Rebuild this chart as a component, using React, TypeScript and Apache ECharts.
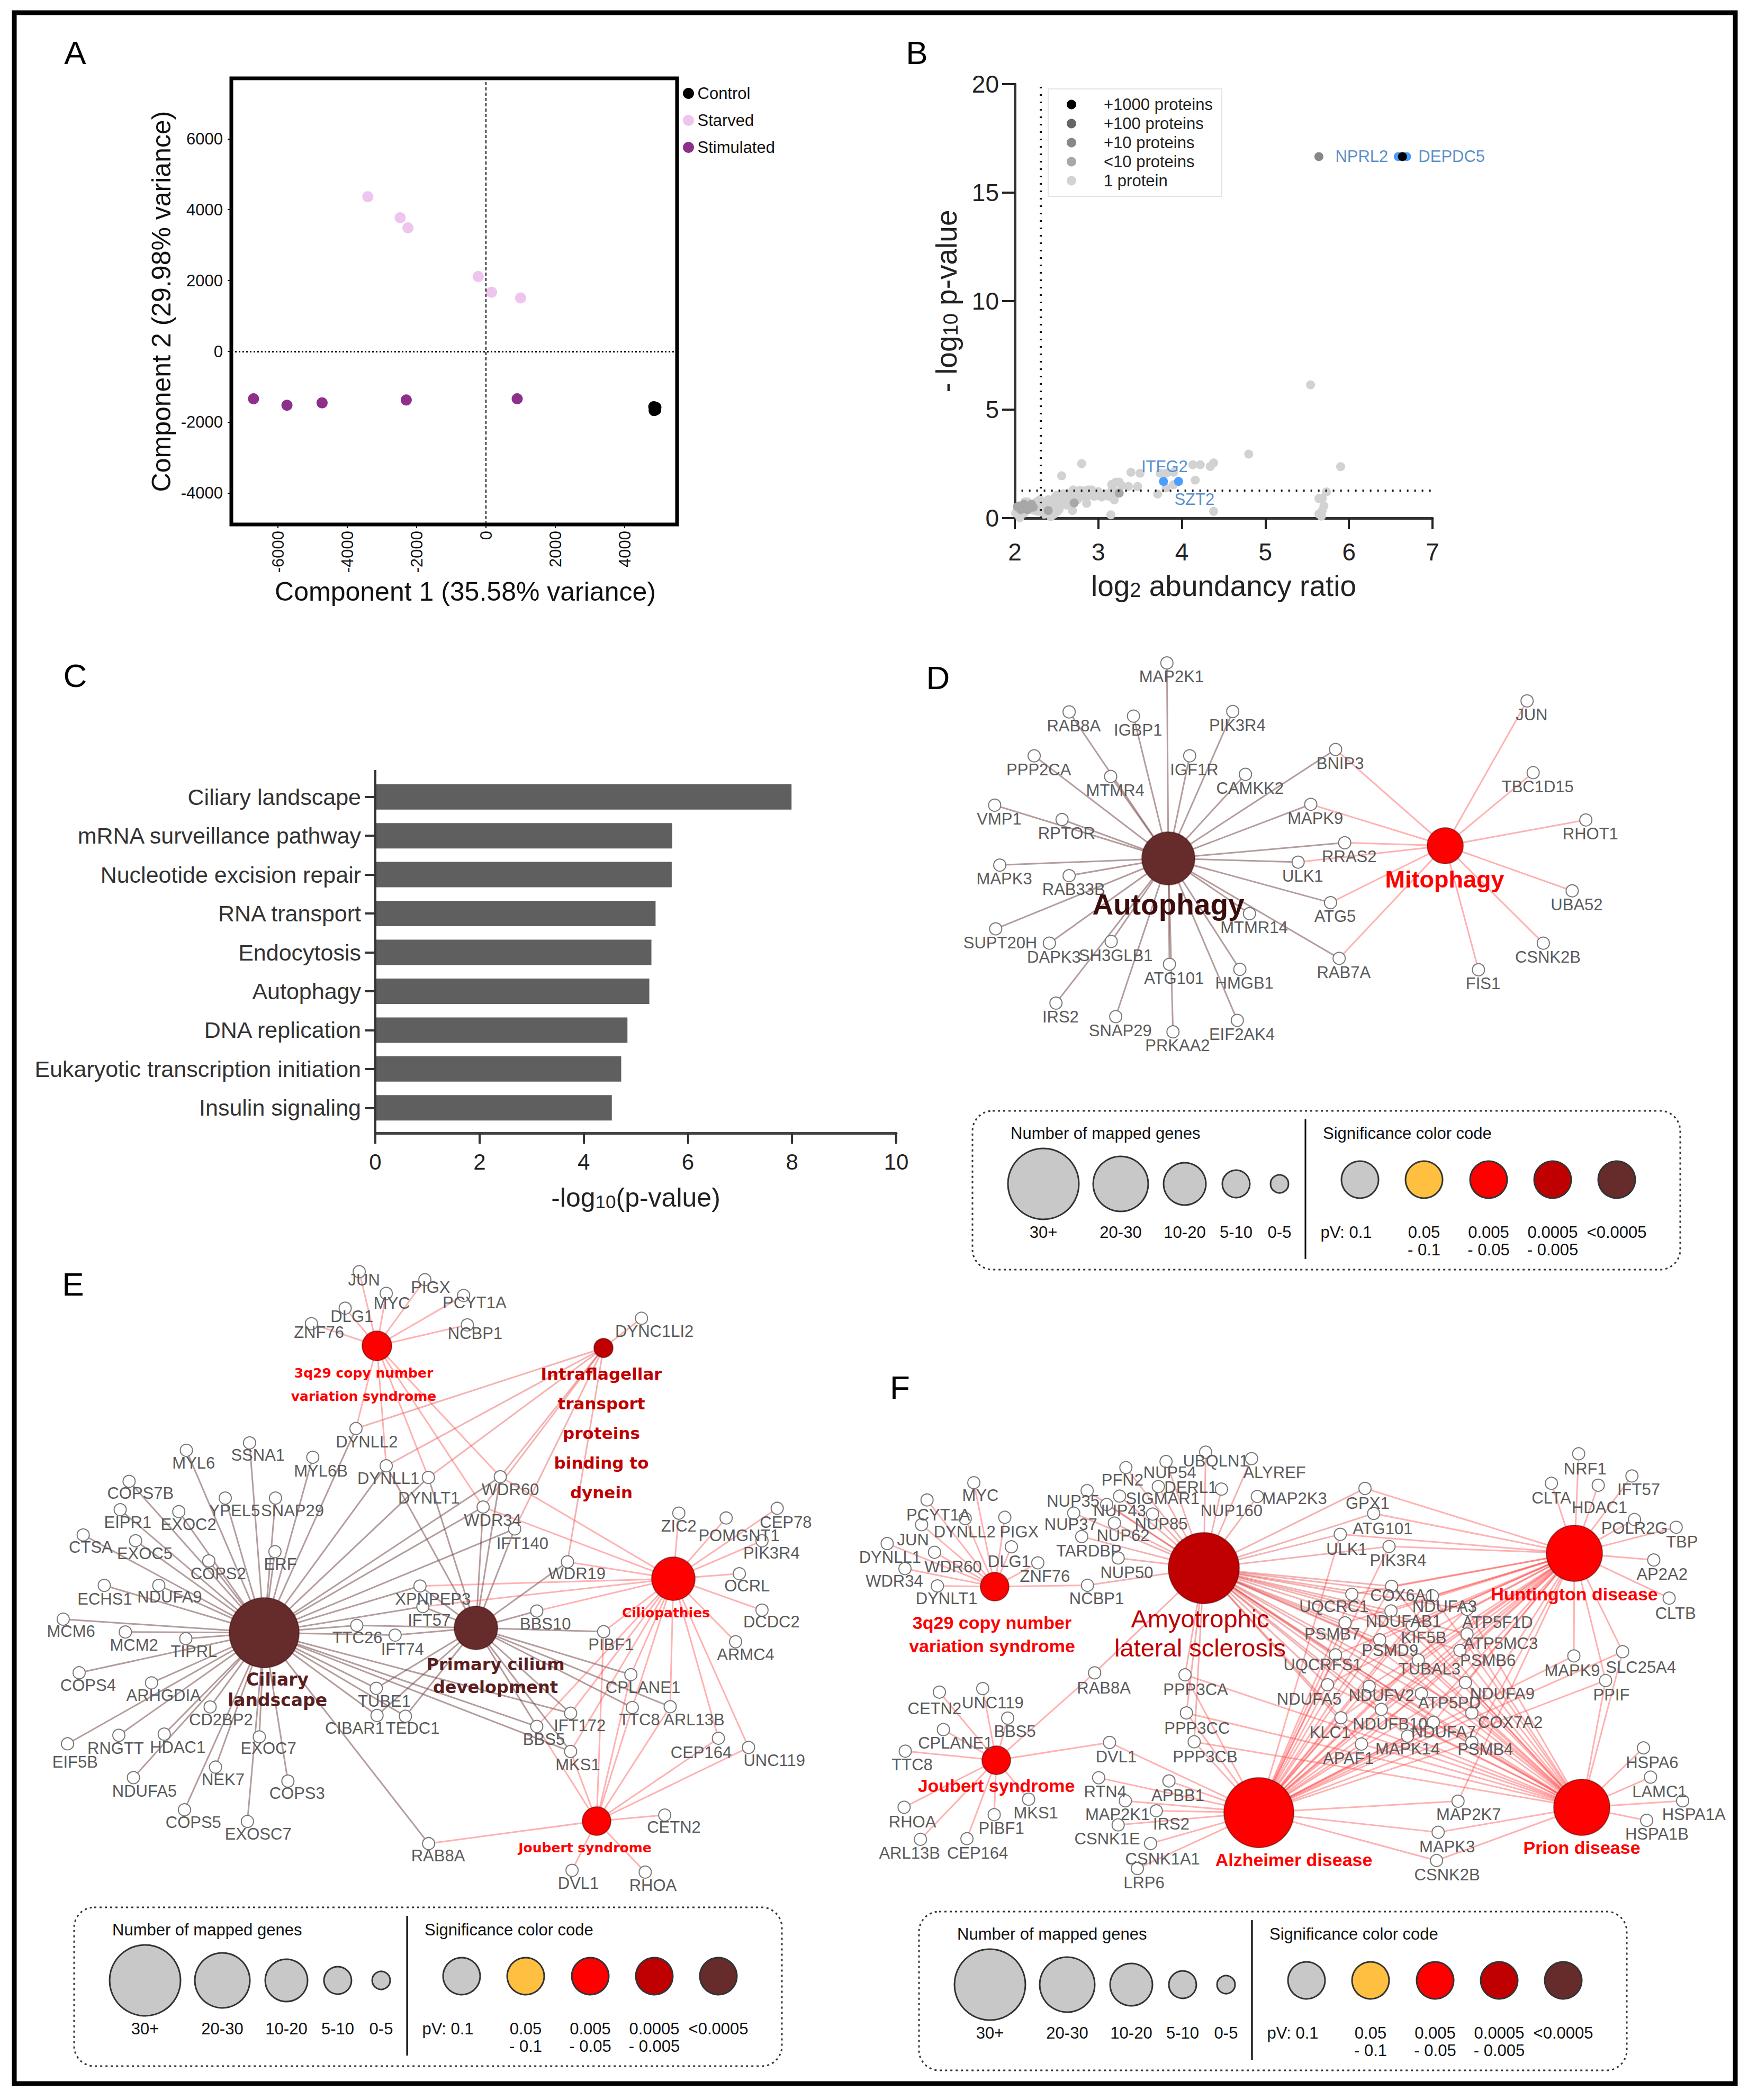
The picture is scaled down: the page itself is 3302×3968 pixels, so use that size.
import React, { useEffect, useRef } from "react";
import * as echarts from "echarts";

const FONT = "Liberation Sans";
const W = 3302;
const H = 3968;

// ---------- Panel A ----------
const pcaControl = [[4871, -1623], [4840, -1560], [4900, -1580], [4850, -1670], [4895, -1650], [4870, -1600]];
const pcaStarved = [[-3408, 4366], [-2476, 3771], [-2251, 3486], [-225, 2114], [161, 1669], [997, 1509]];
const pcaStimulated = [[-6704, -1337], [-5740, -1520], [-4727, -1451], [-2299, -1371], [900, -1337]];
const pcaXTicks = [-6000, -4000, -2000, 0, 2000, 4000];
const pcaYTicks = [-4000, -2000, 0, 2000, 4000, 6000];

// ---------- Panel B ----------
const volcanoOne = [
  [2.8, 2.51], [2.56, 1.95], [3.39, 2.11], [3.5, 2.07], [3.74, 2.07], [3.81, 2.07], [3.9, 2.11], [4.13, 2.46], [4.22, 2.46],
  [4.34, 2.38], [4.38, 2.54], [4.8, 2.95], [4.16, 1.75], [3.81, 1.39], [3.9, 1.54], [3.71, 1.11], [4.38, 0.31], [3.15, 0.15],
  [3.19, 0.84], [3.47, 1.46], [3.36, 1.46], [3.21, 1.66], [3.25, 1.66], [3.17, 1.38], [2.86, 0.68], [2.69, 0.35],
  [1.99, 0.48], [2.01, 0.23], [2.06, 0.02], [2.11, 0.23], [2.18, 0.39], [2.24, 0.64], [2.28, 0.31], [2.32, 0.56], [2.37, 0.72],
  [2.39, 0.31], [2.43, 0.07], [2.45, 0.56], [2.47, 0.8], [2.51, 0.31], [2.53, 0.64], [2.56, 0.97], [2.6, 0.8], [2.64, 1.13],
  [2.68, 0.89], [2.7, 1.3], [2.75, 1.05], [2.79, 1.13], [2.83, 1.25], [2.89, 1.05], [2.94, 1.13], [2.98, 1.17], [3.04, 0.97],
  [3.12, 1.01], [2.53, 0.39], [2.34, 0.39], [2.24, 0.35], [2.62, 0.6], [2.88, 1.3], [2.5, 1.05], [2.4, 0.85], [2.3, 0.85],
  [2.15, 0.75], [2.26, 0.75], [2.35, 0.18], [2.47, 0.18], [2.6, 1.05], [2.72, 1.15], [2.92, 1.3], [3.0, 1.05], [3.08, 1.08],
  [3.2, 1.2], [2.75, 0.85], [2.42, 0.55], [2.3, 0.5], [2.2, 0.55], [2.56, 0.72], [2.66, 0.95], [2.82, 1.0], [2.95, 1.0],
  [2.58, 1.12], [2.48, 0.95], [2.36, 0.55], [2.12, 0.75], [2.78, 1.28], [3.1, 1.12], [3.0, 1.22], [3.16, 1.55], [3.28, 1.5],
  [5.73, 1.21], [5.68, 0.9], [5.64, 0.9], [5.7, 0.56], [5.68, 0.34], [5.64, 0.19], [5.65, -0.04], [5.67, 0.09],
  [5.54, 6.14], [5.9, 2.37],
];
const volcanoFew = [[2.05, 0.56], [2.11, 0.64], [2.18, 0.56], [2.07, 0.39], [2.15, 0.39], [2.03, 0.52], [2.2, 0.64], [2.13, 0.52], [2.4, 0.35], [2.09, 0.5], [2.17, 0.47], [2.22, 0.5], [2.71, 0.7], [3.25, 1.15]];
const volcanoLegend = ["+1000 proteins", "+100 proteins", "+10 proteins", "<10 proteins", "1 protein"];
const volcanoColors = ["#000000", "#666666", "#888888", "#a8a8a8", "#d2d2d2"];
const geneBlue = [["ITFG2", 3.78, 1.69, 2, -28], ["SZT2", 3.96, 1.69, 30, 34], ["DEPDC5", 6.59, 16.66, 0, 0], ["DEPDC5b", 6.69, 16.66, 0, 0]];

// ---------- Panel C ----------
const pathwayNames = ["Ciliary landscape", "mRNA surveillance pathway", "Nucleotide excision repair", "RNA transport", "Endocytosis", "Autophagy", "DNA replication", "Eukaryotic transcription initiation", "Insulin signaling"];
const pathwayValues = [7.99, 5.7, 5.69, 5.38, 5.3, 5.26, 4.84, 4.72, 4.54];

// ---------- Networks ----------
const BROWN = "#662b2b";
const RED = "#ff0000";
const DARKRED = "#c00000";

const z3 = (x: number, y: number) => [1700 + x / 1.045, 1200 + y / 1.254];
const z4 = (x: number, y: number) => [50 + x / 1.96, 2350 + y / 1.363];
const z5 = (x: number, y: number) => [750 + x / 1.845, 2350 + y / 1.206];
const z6 = (x: number, y: number) => [1600 + x / 1.845, 2650 + y / 1.65];
const z7 = (x: number, y: number) => [2350 + x / 1.65, 2650 + y / 1.65];

const dLeaves: any[] = [
  ["MAP2K1", 527, 66, "A"], ["RAB8A", 334, 182, "A"], ["IGBP1", 461, 192, "A"], ["PIK3R4", 657, 181, "A"], ["PPP2CA", 265, 286, "A"],
  ["MTMR4", 416, 335, "A"], ["IGF1R", 572, 286, "A"], ["CAMKK2", 682, 330, "A"], ["BNIP3", 860, 271, "AM"], ["JUN", 1238, 156, "M"],
  ["TBC1D15", 1250, 326, "M"], ["VMP1", 187, 403, "A"], ["RPTOR", 320, 437, "A"], ["MAPK9", 811, 401, "AM"], ["RHOT1", 1354, 438, "M"],
  ["MAPK3", 197, 545, "A"], ["RAB33B", 334, 570, "A"], ["ULK1", 786, 538, "AM"], ["RRAS2", 878, 492, "AM"], ["UBA52", 1327, 606, "M"],
  ["ATG5", 850, 634, "AM"], ["MTMR14", 690, 660, "A"], ["SUPT20H", 189, 696, "A"], ["DAPK3", 295, 730, "A"], ["SH3GLB1", 417, 726, "A"],
  ["ATG101", 532, 780, "A"], ["HMGB1", 671, 792, "A"], ["RAB7A", 867, 766, "AM"], ["CSNK2B", 1270, 730, "M"], ["FIS1", 1142, 793, "M"],
  ["IRS2", 308, 872, "A"], ["SNAP29", 426, 904, "A"], ["PRKAA2", 539, 940, "A"], ["EIF2AK4", 666, 913, "A"],
];

const eLeavesLeft: any[] = [
  ["JUN", 1232, 72, "Q", 1250, 94], ["MYC", 1332, 128, "Q", 1353, 153], ["DLG1", 1180, 166, "Q", 1205, 187], ["ZNF76", 1055, 206, "Q", 1083, 228],
  ["DYNLL2", 1220, 476, "QCI", 1260, 510], ["DYNLL1", 1332, 572, "QCIP", 1340, 604], ["DYNLT1", 1488, 602, "QCIP", 1490, 655],
  ["SSNA1", 826, 513, "C", 857, 545], ["MYL6", 592, 532, "C", 619, 565], ["MYL6B", 1060, 550, "C", 1090, 585], ["COPS7B", 380, 612, "C", 422, 643],
  ["YPEL5", 736, 655, "C", 770, 688], ["SNAP29", 922, 655, "C", 985, 688], ["EIPR1", 347, 685, "C", 375, 718], ["EXOC2", 564, 690, "C", 600, 723],
  ["CTSA", 210, 750, "C", 238, 782], ["EXOC5", 404, 765, "C", 438, 798], ["ERF", 920, 793, "C", 940, 825], ["COPS2", 675, 817, "C", 710, 850],
  ["ECHS1", 288, 880, "C", 290, 915], ["NDUFA9", 490, 880, "C", 530, 910], ["MCM6", 136, 967, "C", 165, 998], ["MCM2", 366, 1000, "C", 398, 1034],
  ["TIPRL", 590, 1017, "C", 620, 1050], ["COPS4", 195, 1105, "C", 228, 1137], ["ARHGDIA", 463, 1131, "C", 508, 1163], ["CD2BP2", 680, 1193, "C", 720, 1226],
  ["EIF5B", 152, 1288, "C", 180, 1335], ["RNGTT", 342, 1266, "C", 330, 1300], ["HDAC1", 510, 1263, "C", 560, 1297], ["EXOC7", 862, 1270, "C", 896, 1300],
  ["NEK7", 700, 1348, "C", 728, 1380], ["NDUFA5", 396, 1375, "C", 437, 1410], ["COPS3", 968, 1384, "C", 1002, 1415], ["COPS5", 585, 1458, "C", 618, 1490],
  ["EXOSC7", 818, 1488, "C", 858, 1520], ["TTC26", 1223, 983, "CP", 1225, 1015], ["IFT74", 1365, 1008, "CP", 1392, 1045], ["TUBE1", 1295, 1145, "CP", 1325, 1178],
  ["CIBAR1", 1298, 1215, "CP", 1215, 1248], ["TEDC1", 1403, 1217, "CP", 1430, 1248],
];
const eLeavesRight: any[] = [
  ["PIGX", 97, 82, "Q", 117, 100], ["PCYT1A", 232, 118, "Q", 270, 135], ["NCBP1", 245, 185, "Q", 272, 205], ["DYNC1LI2", 852, 170, "I", 897, 200],
  ["WDR60", 360, 531, "QPIOC", 395, 560], ["WDR34", 300, 600, "QPIOC", 333, 630], ["IFT140", 410, 650, "CPI", 437, 683], ["WDR19", 594, 725, "IPO", 627, 752],
  ["XPNPEP3", 80, 780, "CPO", 125, 810], ["IFT57", 90, 827, "CPO", 112, 858],
  ["ZIC2", 982, 614, "O", 982, 643], ["POMGNT1", 1147, 625, "O", 1192, 665], ["CEP78", 1325, 603, "O", 1355, 635], ["PIK3R4", 1272, 677, "O", 1305, 705],
  ["OCRL", 1193, 752, "O", 1220, 780], ["DCDC2", 1272, 835, "O", 1305, 862], ["ARMC4", 1180, 907, "O", 1215, 937], ["BBS10", 487, 837, "PO", 517, 867],
  ["PIBF1", 720, 884, "POJ", 746, 913], ["CPLANE1", 815, 982, "POJ", 857, 1011], ["TTC8", 820, 1057, "POJ", 845, 1085], ["ARL13B", 952, 1055, "POJ", 1035, 1085],
  ["IFT172", 605, 1070, "CPO", 637, 1098], ["BBS5", 487, 1100, "CPOJ", 512, 1130], ["MKS1", 605, 1157, "CPOJ", 630, 1187], ["CEP164", 1120, 1127, "OJ", 1060, 1160],
  ["UNC119", 1225, 1148, "OJ", 1315, 1178], ["CETN2", 933, 1302, "J", 965, 1330], ["DVL1", 610, 1428, "J", 632, 1458], ["RHOA", 865, 1432, "J", 892, 1462],
  ["RAB8A", 110, 1367, "CJ", 143, 1395],
];

const fLeavesLeft: any[] = [
  ["MYC", 442, 250, "Q", 465, 290], ["PCYT1A", 279, 304, "Q", 318, 350], ["PIGX", 550, 358, "Q", 600, 403], ["DYNLL2", 412, 362, "Q", 410, 403],
  ["JUN", 260, 381, "Q", 230, 428], ["DYNLL1", 140, 440, "Q", 150, 482], ["DLG1", 573, 450, "Q", 565, 495], ["WDR60", 305, 467, "Q", 370, 512],
  ["ZNF76", 665, 500, "Q", 690, 542], ["NCBP1", 838, 570, "QL", 870, 612], ["WDR34", 202, 518, "Q", 165, 557], ["DYNLT1", 315, 572, "Q", 347, 612],
  ["PFN2", 972, 203, "L", 960, 242], ["NUP54", 1112, 184, "L", 1125, 218], ["UBQLN1", 1250, 155, "L", 1285, 182], ["ALYREF", 1410, 175, "L", 1490, 218],
  ["NUP35", 837, 275, "L", 788, 308], ["SIGMAR1", 950, 292, "L", 1100, 300], ["DERL1", 1085, 262, "L", 1198, 265], ["MAP2K3", 1430, 293, "L", 1560, 300],
  ["NUP37", 790, 345, "L", 780, 380], ["NUP43", 905, 318, "L", 950, 338], ["NUP85", 1065, 348, "L", 1095, 378], ["NUP62", 932, 376, "L", 962, 415],
  ["TARDBP", 818, 418, "L", 843, 463], ["NUP50", 945, 485, "L", 975, 530], ["NUP160", 1305, 270, "L", 1340, 338],
  ["RAB8A", 863, 843, "LJ", 895, 890], ["PPP3CA", 1178, 849, "LAP", 1215, 895], ["PPP3CC", 1183, 968, "LAP", 1220, 1015], ["PPP3CB", 1210, 1058, "LAP", 1248, 1105],
  ["DVL1", 915, 1060, "JA", 938, 1105], ["RTN4", 877, 1170, "A", 900, 1213], ["APBB1", 1122, 1180, "A", 1153, 1225], ["MAP2K1", 970, 1242, "A", 943, 1285],
  ["IRS2", 1078, 1273, "A", 1130, 1315], ["CSNK1E", 945, 1317, "A", 907, 1360], ["CSNK1A1", 1058, 1375, "A", 1100, 1423], ["LRP6", 1012, 1453, "A", 1035, 1498],
  ["CETN2", 322, 903, "J", 305, 955], ["UNC119", 473, 892, "J", 508, 937], ["BBS5", 560, 984, "J", 585, 1025], ["CPLANE1", 336, 1020, "J", 378, 1062],
  ["TTC8", 203, 1087, "J", 227, 1130], ["RHOA", 199, 1262, "J", 228, 1308], ["MKS1", 633, 1237, "J", 658, 1280], ["PIBF1", 513, 1285, "J", 538, 1328],
  ["ARL13B", 256, 1362, "J", 218, 1405], ["CEP164", 418, 1360, "J", 455, 1405],
];
const fLeavesRight: any[] = [
  ["GPX1", 377, 268, "LH", 385, 315], ["ATG101", 404, 346, "LH", 432, 393], ["ULK1", 300, 411, "LHA", 320, 458], ["PIK3R4", 452, 449, "LHA", 480, 493],
  ["COX6A1", 460, 573, "LAHP", 494, 602], ["UQCRC1", 336, 598, "LAHP", 280, 636], ["NDUFA3", 587, 603, "LAHP", 625, 636], ["NDUFAB1", 458, 650, "LAHP", 497, 682],
  ["ATP5F1D", 695, 645, "LAHP", 790, 686], ["ATP5MC3", 695, 722, "LAHP", 800, 752], ["PSMB6", 673, 773, "LAHP", 760, 805], ["KIF5B", 525, 695, "LAHP", 560, 733],
  ["PSMB7", 315, 687, "LAHP", 275, 722], ["PSMD9", 423, 740, "LAHP", 455, 773], ["UQCRFS1", 285, 787, "LAHP", 245, 817], ["TUBAL3", 543, 803, "LAHP", 578, 830],
  ["NDUFA9", 690, 873, "LAHP", 805, 908], ["NDUFA5", 260, 880, "LAHP", 203, 925], ["NDUFV2", 390, 885, "LAHP", 428, 913], ["ATP5PD", 553, 908, "LAHP", 640, 937],
  ["COX7A2", 710, 968, "LAHP", 830, 997], ["KLC1", 302, 983, "LAHP", 268, 1028], ["NDUFB10", 428, 957, "LAHP", 455, 1003], ["NDUFA7", 590, 997, "LAHP", 622, 1027],
  ["MAPK14", 510, 1040, "LAHP", 510, 1080], ["PSMB4", 710, 1060, "LAHP", 752, 1082], ["APAF1", 366, 1065, "LAHP", 325, 1110],
  ["MAP2K7", 667, 1243, "AH", 700, 1285], ["MAPK3", 605, 1340, "AP", 633, 1385], ["CSNK2B", 600, 1428, "AP", 633, 1472],
  ["MAPK9", 1028, 790, "HA", 1023, 835], ["SLC25A4", 1180, 777, "HPA", 1237, 825], ["PPIF", 1127, 867, "HPA", 1145, 912],
  ["NRF1", 1043, 160, "H", 1063, 207], ["CLTA", 958, 252, "H", 958, 297], ["HDAC1", 1104, 258, "H", 1108, 327], ["IFT57", 1209, 229, "H", 1230, 272],
  ["POLR2G", 1217, 365, "H", 1217, 392], ["TBP", 1347, 389, "H", 1365, 434], ["AP2A2", 1277, 491, "H", 1303, 535], ["CLTB", 1325, 610, "H", 1345, 657],
  ["HSPA6", 1245, 1077, "P", 1272, 1122], ["LAMC1", 1267, 1168, "P", 1295, 1213], ["HSPA1A", 1367, 1242, "P", 1402, 1285], ["HSPA1B", 1255, 1303, "P", 1287, 1345],
];

const termBold = { fontFamily: "DejaVu Sans", fontWeight: "bold" };
const liberationBold = { fontFamily: FONT, fontWeight: "bold" };
const dHubs: any[] = [
  { key: "A", name: "Autophagy", x: 2207, y: 1622, r: 50, color: BROWN, lx: 2207, ly: 1709, size: 55, text: "#3d0c0c", font: liberationBold },
  { key: "M", name: "Mitophagy", x: 2730, y: 1598, r: 34, color: RED, lx: 2729, ly: 1661, size: 45, text: RED, font: liberationBold },
];
const eHubs: any[] = [
  { key: "C", name: "Ciliary\nlandscape", x: 499, y: 3085, r: 66, color: BROWN, lx: 524, ly: 3193, size: 33, text: "#5b1e1e", lh: 39, font: termBold },
  { key: "P", name: "Primary cilium\ndevelopment", x: 899, y: 3076, r: 41, color: BROWN, lx: 936, ly: 3166, size: 32, text: "#5b1e1e", lh: 43, font: termBold },
  { key: "Q", name: "3q29 copy number\nvariation syndrome", x: 712, y: 2543, r: 28, color: RED, lx: 687, ly: 2616, size: 25, text: RED, lh: 44, font: termBold },
  { key: "I", name: "Intraflagellar\ntransport\nproteins\nbinding to\ndynein", x: 1140, y: 2547, r: 18, color: DARKRED, lx: 1136, ly: 2708, size: 31, text: DARKRED, lh: 56, font: termBold },
  { key: "O", name: "Ciliopathies", x: 1272, y: 2983, r: 41, color: RED, lx: 1258, ly: 3047, size: 25, text: RED, font: termBold },
  { key: "J", name: "Joubert syndrome", x: 1127, y: 3441, r: 27, color: RED, lx: 1105, ly: 3491, size: 25, text: RED, font: termBold },
];
const fHubs: any[] = [
  { key: "Q", name: "3q29 copy number\nvariation syndrome", x: 1879, y: 2998, r: 27, color: RED, lx: 1874, ly: 3088, size: 34, text: RED, lh: 44, font: liberationBold },
  { key: "L", name: "Amyotrophic\nlateral sclerosis", x: 2274, y: 2963, r: 67, color: DARKRED, lx: 2267, ly: 3086, size: 47, text: DARKRED, lh: 55, font: { fontFamily: FONT } },
  { key: "J", name: "Joubert syndrome", x: 1882, y: 3326, r: 27, color: RED, lx: 1882, ly: 3374, size: 34, text: RED, font: liberationBold },
  { key: "A", name: "Alzheimer disease", x: 2378, y: 3425, r: 66, color: RED, lx: 2444, ly: 3514, size: 34, text: RED, font: liberationBold },
  { key: "H", name: "Huntington disease", x: 2974, y: 2935, r: 53, color: RED, lx: 2974, ly: 3012, size: 34, text: RED, font: liberationBold },
  { key: "P", name: "Prion disease", x: 2988, y: 3415, r: 53, color: RED, lx: 2988, ly: 3491, size: 34, text: RED, font: liberationBold },
];

// ---------- Network legend ----------
const sizeLegend = ["30+", "20-30", "10-20", "5-10", "0-5"];
const sizeRadii = [67, 52, 40, 26, 17];
const sizeX = [134, 280, 401, 498, 580];
const sigColors = ["#c8c8c8", "#ffbf40", "#ff0000", "#c00000", "#662b2b"];
const sigX = [732, 853, 975, 1096, 1217];
const sigTop = ["pV: 0.1", "0.05", "0.005", "0.0005", "<0.0005"];
const sigBottom = ["", "- 0.1", "- 0.05", "- 0.005", ""];
const legendBoxes = [[1837, 2099], [140, 3604], [1736, 3612]];

const edgeColor = (c: string) =>
  c === BROWN ? "rgba(120,75,75,0.55)" : c === DARKRED ? "rgba(225,50,50,0.38)" : "rgba(255,70,70,0.42)";

function networkSeries(name: string, hubs: any[], leafSets: [any[], (x: number, y: number) => number[]][]) {
  const nodes: any[] = [];
  const links: any[] = [];
  const hubByKey: any = {};
  hubs.forEach((h) => (hubByKey[h.key] = h));
  leafSets.forEach(([rows, conv]) =>
    rows.forEach((r) => {
      const [nm, x, y, hs, lx, ly] = r;
      const p = conv(x, y);
      const l = lx === undefined ? conv(x + 9, y + 33) : conv(lx, ly);
      nodes.push({
        name: nm,
        value: p,
        symbolSize: 23,
        itemStyle: { color: "#fff", borderColor: "#777", borderWidth: 2 },
        label: { show: true, position: "inside", offset: [l[0] - p[0], l[1] - p[1]], color: "#5a5a5a", fontSize: 31, fontFamily: FONT },
      });
      hs.split("").forEach((k: string) => {
        links.push({ source: nm, target: hubByKey[k].name, lineStyle: { color: edgeColor(hubByKey[k].color), width: 3, opacity: 1, curveness: 0 } });
      });
    })
  );
  hubs.forEach((h) =>
    nodes.push({
      name: h.name,
      value: [h.x, h.y],
      symbolSize: h.r * 2,
      itemStyle: { color: h.color, borderColor: "rgba(60,0,0,0.5)", borderWidth: 2 },
      label: {
        show: true,
        position: "inside",
        offset: [h.lx - h.x, h.ly - h.y],
        color: h.text,
        fontSize: h.size,
        lineHeight: h.lh || h.size + 6,
        align: "center",
        ...h.font,
      },
    })
  );
  return {
    type: "graph",
    name,
    coordinateSystem: "cartesian2d",
    xAxisIndex: 3,
    yAxisIndex: 3,
    layout: "none",
    silent: true,
    symbol: "circle",
    edgeSymbol: ["none", "none"],
    data: nodes,
    links,
    z: 4,
  };
}

function legendGraphic(box: number[]) {
  const txt = (text: string, x: number, y: number, align = "center", size = 31) => ({
    type: "text",
    x,
    y,
    style: { text, fontFamily: FONT, fontSize: size, fill: "#111", align, verticalAlign: "middle" },
  });
  const children: any[] = [
    { type: "rect", shape: { x: 0, y: 0, width: 1337, height: 300, r: 38 }, style: { fill: "none", stroke: "#333", lineWidth: 3, lineDash: [4, 6] } },
    { type: "line", shape: { x1: 629, y1: 16, x2: 629, y2: 280 }, style: { stroke: "#000", lineWidth: 3 } },
    txt("Number of mapped genes", 72, 42, "left"),
    txt("Significance color code", 662, 42, "left"),
  ];
  sizeLegend.forEach((s, i) => {
    children.push({ type: "circle", shape: { cx: sizeX[i], cy: 138, r: sizeRadii[i] }, style: { fill: "#c8c8c8", stroke: "#333", lineWidth: 3 } });
    children.push(txt(s, sizeX[i], 229));
  });
  sigColors.forEach((c, i) => {
    children.push({ type: "circle", shape: { cx: sigX[i], cy: 130, r: 35 }, style: { fill: c, stroke: "#333", lineWidth: 3 } });
    children.push(txt(sigTop[i], i === 0 ? 706 : sigX[i], 229));
    if (sigBottom[i]) children.push(txt(sigBottom[i], sigX[i], 262));
  });
  return { type: "group", x: box[0], y: box[1], children };
}

const panelLetters: [string, number, number][] = [["A", 142, 99], ["B", 1732, 99], ["C", 142, 1276], ["D", 1772, 1280], ["E", 138, 2426], ["F", 1700, 2621]];

const plain = (v: number) => String(v);

function buildOption(): any {
  const graphic: any[] = [
    { type: "rect", shape: { x: 27, y: 24, width: 3251, height: 3913 }, style: { fill: "none", stroke: "#000", lineWidth: 9 }, z: 1 },
    { type: "line", shape: { x1: 709, y1: 1455, x2: 709, y2: 2141 }, style: { stroke: "#333", lineWidth: 4 }, z: 5 },
    ...panelLetters.map(([t, x, y]) => ({
      type: "text",
      x,
      y,
      style: { text: t, fontFamily: FONT, fontSize: 62, fill: "#000", align: "center", verticalAlign: "middle" },
    })),
    ...legendBoxes.map(legendGraphic),
  ];

  const scatterCommon = { type: "scatter", xAxisIndex: 1, yAxisIndex: 1, symbolSize: 17, silent: true };
  const solid = (color: string) => ({ color, opacity: 1 });
  const dotted = { color: "#111", type: [3, 11], width: 4, opacity: 1 };

  return {
    animation: false,
    backgroundColor: "#fff",
    textStyle: { fontFamily: FONT },
    graphic,
    grid: [
      { left: 437, top: 148, width: 842, height: 843, show: true, borderColor: "#000", borderWidth: 7, backgroundColor: "transparent" },
      { left: 1917, top: 159, width: 789, height: 820 },
      { left: 709, top: 1469, width: 984, height: 661 },
      { left: 0, top: 0, width: W, height: H },
    ],
    legend: [
      {
        data: ["Control", "Starved", "Stimulated"],
        orient: "vertical",
        left: 1290,
        top: 161,
        itemWidth: 24,
        itemHeight: 21,
        itemGap: 20,
        padding: 0,
        selectedMode: false,
        icon: "circle",
        textStyle: { fontSize: 31, color: "#111", fontFamily: FONT, lineHeight: 31 },
      },
      {
        data: volcanoLegend,
        orient: "vertical",
        left: 1980,
        top: 168,
        itemWidth: 82,
        itemHeight: 18,
        itemGap: 5,
        padding: [14, 17, 14, 35],
        selectedMode: false,
        icon: "circle",
        borderColor: "#e3e3e3",
        borderWidth: 2,
        textStyle: { fontSize: 31, color: "#222", fontFamily: FONT, lineHeight: 31, padding: [0, 0, 0, 15] },
      },
    ],
    xAxis: [
      {
        type: "value",
        gridIndex: 0,
        min: -7344,
        max: 5511,
        splitLine: { show: false },
        axisLine: { show: false, onZero: false },
        axisTick: { show: true, length: 7, customValues: pcaXTicks, lineStyle: { color: "#000", width: 2 } },
        axisLabel: { rotate: 90, fontSize: 31, color: "#111", margin: 12, customValues: pcaXTicks, formatter: plain },
        name: "Component 1 (35.58% variance)",
        nameLocation: "middle",
        nameGap: 102,
        nameTextStyle: { fontSize: 50, color: "#111", padding: [0, 0, 0, 42] },
      },
      {
        type: "value",
        gridIndex: 1,
        min: 2,
        max: 7,
        interval: 1,
        splitLine: { show: false },
        axisLine: { show: true, onZero: false, lineStyle: { color: "#333", width: 5 } },
        axisTick: { show: true, length: 21, lineStyle: { color: "#222", width: 4 } },
        axisLabel: { fontSize: 46, color: "#222", margin: 41 },
        name: "{a|log}{b|2}{a| abundancy ratio}",
        nameLocation: "middle",
        nameGap: 100,
        nameTextStyle: {
          rich: {
            a: { fontSize: 55, color: "#222", fontFamily: FONT },
            b: { fontSize: 38, color: "#222", fontFamily: FONT, verticalAlign: "bottom", padding: [14, 0, 0, 0] },
          },
        },
      },
      {
        type: "value",
        gridIndex: 2,
        min: 0,
        max: 10,
        interval: 2,
        offset: 11,
        splitLine: { show: false },
        axisLine: { show: true, onZero: false, lineStyle: { color: "#444", width: 5 } },
        axisTick: { show: true, length: 20, lineStyle: { color: "#333", width: 4 } },
        axisLabel: { fontSize: 42, color: "#222", margin: 33 },
        name: "{a|-log}{b|10}{a|(p-value)}",
        nameLocation: "middle",
        nameGap: 97,
        nameTextStyle: {
          rich: {
            a: { fontSize: 50, color: "#222", fontFamily: FONT },
            b: { fontSize: 35, color: "#222", fontFamily: FONT, verticalAlign: "bottom", padding: [14, 0, 0, 0] },
          },
        },
      },
      { type: "value", gridIndex: 3, min: 0, max: W, show: false, splitLine: { show: false } },
    ],
    yAxis: [
      {
        type: "value",
        gridIndex: 0,
        min: -4884,
        max: 7707,
        splitLine: { show: false },
        axisLine: { show: false, onZero: false },
        axisTick: { show: true, length: 7, customValues: pcaYTicks, lineStyle: { color: "#000", width: 2 } },
        axisLabel: { fontSize: 31, color: "#111", margin: 16, customValues: pcaYTicks, formatter: plain },
        name: "Component 2 (29.98% variance)",
        nameLocation: "middle",
        nameGap: 107,
        nameTextStyle: { fontSize: 50, color: "#111" },
      },
      {
        type: "value",
        gridIndex: 1,
        min: 0,
        max: 20,
        interval: 5,
        splitLine: { show: false },
        axisLine: { show: true, onZero: false, lineStyle: { color: "#333", width: 5 } },
        axisTick: { show: true, length: 24, lineStyle: { color: "#222", width: 4 } },
        axisLabel: { fontSize: 46, color: "#222", margin: 30 },
        name: "{a|- log}{b|10}{a| p-value}",
        nameLocation: "middle",
        nameGap: 102,
        nameTextStyle: {
          rich: {
            a: { fontSize: 55, color: "#222", fontFamily: FONT },
            b: { fontSize: 38, color: "#222", fontFamily: FONT, verticalAlign: "bottom", padding: [14, 0, 0, 0] },
          },
        },
      },
      {
        type: "category",
        gridIndex: 2,
        inverse: true,
        data: pathwayNames,
        axisLine: { show: false },
        axisTick: { show: true, length: 20, alignWithLabel: true, lineStyle: { color: "#333", width: 4 } },
        axisLabel: { fontSize: 43, color: "#333", margin: 27, interval: 0 },
      },
      { type: "value", gridIndex: 3, min: 0, max: H, inverse: true, show: false, splitLine: { show: false } },
    ],
    series: [
      { type: "scatter", name: "Control", xAxisIndex: 0, yAxisIndex: 0, symbolSize: 21, silent: true, itemStyle: solid("#000"), data: pcaControl },
      { type: "scatter", name: "Starved", xAxisIndex: 0, yAxisIndex: 0, symbolSize: 21, silent: true, itemStyle: solid("#eec5ee"), data: pcaStarved },
      {
        type: "scatter",
        name: "Stimulated",
        xAxisIndex: 0,
        yAxisIndex: 0,
        symbolSize: 21,
        silent: true,
        itemStyle: solid("#8e2f8c"),
        data: pcaStimulated,
        markLine: {
          silent: true,
          symbol: ["none", "none"],
          label: { show: false },
          data: [
            { yAxis: 0, lineStyle: { color: "#000", type: [3, 4], width: 3, opacity: 1 } },
            { xAxis: 0, lineStyle: { color: "#000", type: [6, 4], width: 2, opacity: 1 } },
          ],
        },
      },
      {
        ...scatterCommon,
        name: "1 protein",
        itemStyle: solid(volcanoColors[4]),
        data: volcanoOne,
        markLine: {
          silent: true,
          symbol: ["none", "none"],
          label: { show: false },
          lineStyle: dotted,
          data: [{ xAxis: 2.31 }, [{ coord: [2.08, 1.27] }, { coord: [7, 1.27] }]],
        },
      },
      { ...scatterCommon, name: "<10 proteins", itemStyle: solid(volcanoColors[3]), data: volcanoFew },
      {
        ...scatterCommon,
        name: "+10 proteins",
        itemStyle: solid(volcanoColors[2]),
        data: [
          { value: [5.64, 16.66], label: { show: true, formatter: "NPRL2", position: "inside", offset: [81, 0], color: "#5b8fc9", fontSize: 31 } },
        ],
      },
      { ...scatterCommon, name: "+100 proteins", itemStyle: solid(volcanoColors[1]), data: [] },
      {
        ...scatterCommon,
        name: "Labelled genes",
        itemStyle: solid("#4a9eff"),
        data: geneBlue.map((g: any) => ({
          value: [g[1], g[2]],
          label: {
            show: g[3] !== 0,
            formatter: g[0],
            position: "inside",
            offset: [g[3], g[4]],
            color: "#5b8fc9",
            fontSize: 31,
          },
        })),
      },
      {
        ...scatterCommon,
        name: "+1000 proteins",
        itemStyle: solid(volcanoColors[0]),
        data: [{ value: [6.64, 16.66], label: { show: true, formatter: "DEPDC5", position: "inside", offset: [93, 0], color: "#5b8fc9", fontSize: 31 } }],
      },
      {
        type: "bar",
        name: "Enrichment",
        xAxisIndex: 2,
        yAxisIndex: 2,
        barWidth: 48,
        silent: true,
        itemStyle: { color: "#5f5f5f" },
        data: pathwayValues,
      },
      networkSeries("Network D", dHubs, [[dLeaves, z3]]),
      networkSeries("Network E", eHubs, [[eLeavesLeft, z4], [eLeavesRight, z5]]),
      networkSeries("Network F", fHubs, [[fLeavesLeft, z6], [fLeavesRight, z7]]),
    ],
  };
}

export default function App() {
  const ref = useRef<HTMLDivElement>(null);
  useEffect(() => {
    document.body.style.margin = "0";
    const chart = echarts.init(ref.current as HTMLDivElement, undefined, { renderer: "svg" });
    chart.setOption(buildOption());
    return () => chart.dispose();
  }, []);
  return <div ref={ref} style={{ width: W, height: H, position: "absolute", left: 0, top: 0 }} />;
}
